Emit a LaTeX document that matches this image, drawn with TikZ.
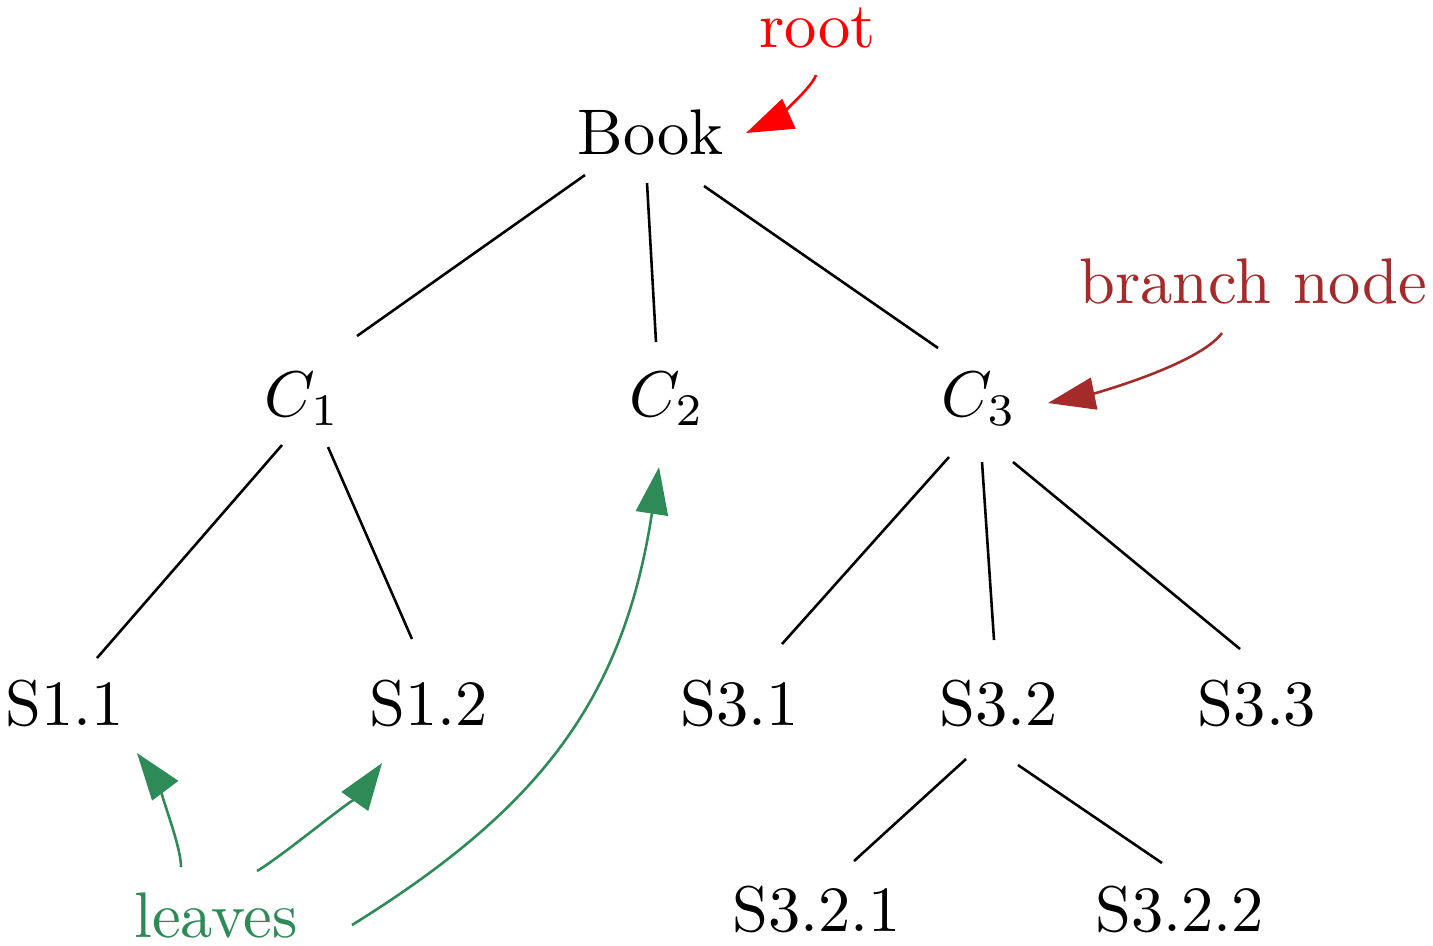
\documentclass[tikz,border=0pt]{standalone}
\usetikzlibrary{arrows.meta}
\definecolor{leafgreen}{RGB}{46,139,87}
\definecolor{branchbrown}{RGB}{165,42,42}
\definecolor{rootred}{RGB}{255,0,0}
\tikzset{
  lbl/.style={inner sep=0pt, anchor=base},
  treeedge/.style={line width=0.4pt, black},
  notearrow/.style={line width=0.4pt, -{Triangle[length=7.3pt,width=5.0pt]}},
}
\begin{document}
\begin{tikzpicture}[x=0.155pt,y=-0.155pt]
\useasboundingbox (0,0) rectangle (1433,945);
% tree nodes
\node[lbl] (book) at (650.5,154) {Book};
\node[lbl] (c1) at (302.5,416) {$C_1$};
\node[lbl] (c2) at (667,416) {$C_2$};
\node[lbl] (c3) at (979,416) {$C_3$};
\node[lbl] (s11) at (65,725) {S1.1};
\node[lbl] (s12) at (429,725) {S1.2};
\node[lbl] (s31) at (740,725) {S3.1};
\node[lbl] (s32) at (999,725) {S3.2};
\node[lbl] (s33) at (1257,725) {S3.3};
\node[lbl] (s321) at (816.5,931) {S3.2.1};
\node[lbl] (s322) at (1179.5,931) {S3.2.2};
% annotations
\node[lbl, text=rootred] (root) at (817.5,47) {root};
\node[lbl, text=branchbrown] (branch) at (1253.5,303) {branch node};
\node[lbl, text=leafgreen] (leaves) at (216,937) {leaves};
% tree edges
\draw[treeedge] ([shift={(-65.5,21)}]book.base) -- ([shift={(54.5,-80)}]c1.base);
\draw[treeedge] ([shift={(-3.5,29)}]book.base) -- ([shift={(-11,-74)}]c2.base);
\draw[treeedge] ([shift={(53.5,32)}]book.base) -- ([shift={(-41,-68)}]c3.base);
\draw[treeedge] ([shift={(-20.5,29)}]c1.base) -- ([shift={(32,-67)}]s11.base);
\draw[treeedge] ([shift={(25.5,31)}]c1.base) -- ([shift={(-17,-86)}]s12.base);
\draw[treeedge] ([shift={(-30,41)}]c3.base) -- ([shift={(42,-81)}]s31.base);
\draw[treeedge] ([shift={(3,46)}]c3.base) -- ([shift={(-5,-85)}]s32.base);
\draw[treeedge] ([shift={(34,46)}]c3.base) -- ([shift={(-17,-76)}]s33.base);
\draw[treeedge] ([shift={(-33,34)}]s32.base) -- ([shift={(37.5,-70)}]s321.base);
\draw[treeedge] ([shift={(19,40)}]s32.base) -- ([shift={(-17.5,-68)}]s322.base);
% annotation arrows
\draw[notearrow, rootred] ([shift={(-1.5,28)}]root.base) .. controls +(-6,17) and +(20,-9) .. ([shift={(95.5,-21)}]book.base);
\draw[notearrow, branchbrown] ([shift={(-31.5,30)}]branch.base) .. controls +(-24,32) and +(44,-9) .. ([shift={(69,-13)}]c3.base);
\draw[notearrow, leafgreen] ([shift={(-35,-70)}]leaves.base) .. controls +(0,-27) and +(12,16) .. ([shift={(72,28)}]s11.base);
\draw[notearrow, leafgreen] ([shift={(41,-66)}]leaves.base) .. controls +(30,-18) and +(-17,24) .. ([shift={(-47,38)}]s12.base);
\draw[notearrow, leafgreen] ([shift={(136,-12)}]leaves.base) .. controls +(185,-115) and +(-36,235) .. ([shift={(-8,51)}]c2.base);
\end{tikzpicture}
\end{document}
